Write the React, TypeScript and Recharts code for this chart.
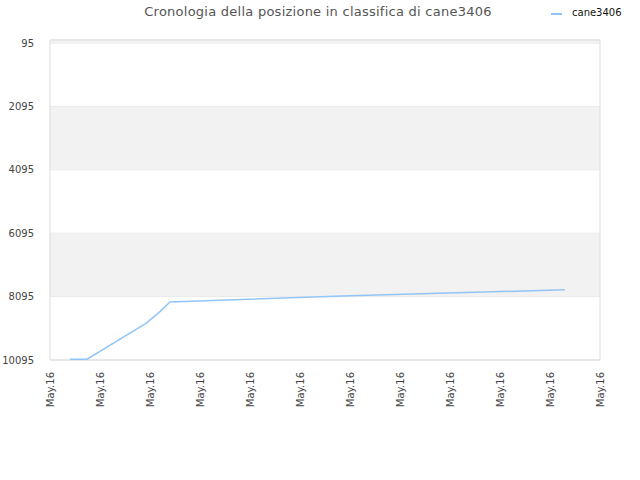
import * as React from "react"
import { LineChart, Line, XAxis, YAxis, CartesianGrid, ReferenceArea } from "recharts"

const title = "Cronologia della posizione in classifica di cane3406"
const seriesName = "cane3406"

// x positions are in tick units (one unit per "May.16" tick)
const dayPos = [0.4, 0.74, 1.92, 2.2, 2.4, 6.0, 10.3]
const rank = [10070, 10070, 8940, 8570, 8265, 8070, 7880]

const xTicks = [0, 1, 2, 3, 4, 5, 6, 7, 8, 9, 10, 11]
const xLabels = ["May.16", "May.16", "May.16", "May.16", "May.16", "May.16", "May.16", "May.16", "May.16", "May.16", "May.16", "May.16"]
const yTicks = [95, 2095, 4095, 6095, 8095, 10095]
const bands: Array<[number, number]> = [[0, 95], [2095, 4095], [6095, 8095]]

const data = dayPos.map((d, i) => ({ d, rank: rank[i] }))

const font = "'DejaVu Sans', Verdana, sans-serif"

const XTick = (props: any) => {
  const { x, y, payload } = props
  return (
    <text
      x={x}
      y={y}
      transform={`rotate(-90, ${x}, ${y})`}
      textAnchor="end"
      dy="0.35em"
      fontSize={10}
      fill="#444"
      fontFamily={font}
    >
      {xLabels[payload.index] ?? xLabels[0]}
    </text>
  )
}

export default function App() {
  return (
    <div style={{ position: "absolute", left: 0, top: 0, width: 640, height: 480, background: "#fff" }}>
      <LineChart width={640} height={480} data={data} margin={{ top: 40, right: 40, bottom: 60, left: 0 }}>
        {bands.map(([a, b], i) => (
          <ReferenceArea key={i} x1={0} x2={11} y1={a} y2={b} fill="#f2f2f2" fillOpacity={1} stroke="none" ifOverflow="hidden" />
        ))}
        <CartesianGrid vertical={false} stroke="#e2e2e2" />
        <ReferenceArea x1={0} x2={11} y1={0} y2={10095} fill="none" stroke="#dcdcdc" strokeWidth={1} />
        <XAxis
          dataKey="d"
          type="number"
          domain={[0, 11]}
          ticks={xTicks}
          interval={0}
          axisLine={false}
          tickLine={false}
          tickMargin={6}
          height={60}
          tick={<XTick />}
        />
        <YAxis
          type="number"
          domain={[0, 10095]}
          reversed
          ticks={yTicks}
          interval={0}
          width={50}
          axisLine={false}
          tickLine={false}
          tickMargin={10}
          tick={{ fontSize: 10, fill: "#444", fontFamily: font }}
        />
        <Line
          type="linear"
          dataKey="rank"
          stroke="#92c5f7"
          strokeWidth={1.5}
          dot={false}
          isAnimationActive={false}
        />
        <text x={318} y={16} textAnchor="middle" fontSize={13} letterSpacing={0.25} fill="#555" fontFamily={font}>
          {title}
        </text>
        <line x1={551} x2={562} y1={14} y2={14} stroke="#92c5f7" strokeWidth={2} />
        <text x={572} y={16} fontSize={10} fill="#111" fontFamily={font}>
          {seriesName}
        </text>
      </LineChart>
    </div>
  )
}
